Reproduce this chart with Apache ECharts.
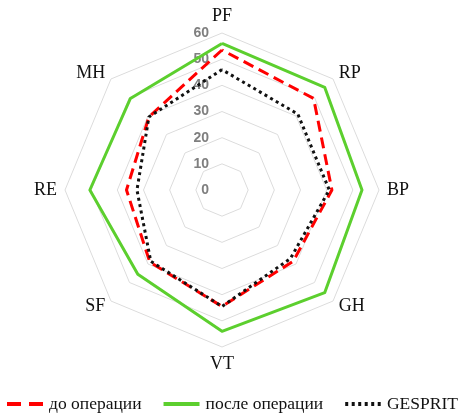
<!DOCTYPE html>
<html><head><meta charset="utf-8">
<script src="https://cdn.jsdelivr.net/npm/echarts@6/dist/echarts.min.js"></script>
<style>html,body{margin:0;padding:0;background:#fff}#c{width:475px;height:418px}</style>
</head><body><div id="c"></div>
<script>
// indicators listed clockwise from the top
var categories = ['PF', 'RP', 'BP', 'GH', 'VT', 'SF', 'RE', 'MH'];
var seriesNames = ['до операции', 'после операции', 'GESPRIT'];
var beforeOp = [53.5, 49.5, 42, 38.5, 44.5, 39, 36.5, 39.5];
var afterOp  = [56, 55.5, 53.5, 55.5, 54, 45.5, 50.5, 49.5];
var gesprit  = [46, 41, 41, 37, 44.5, 38.5, 32.5, 39.5];
var axisMax = 60;
var axisTicks = [0, 10, 20, 30, 40, 50, 60];

// ECharts lays indicators counter-clockwise; reorder so the picture runs clockwise
function ccw(arr) { return [arr[0]].concat(arr.slice(1).reverse()); }

var indicators = ccw(categories).map(function (n, i) {
  var ind = { name: n, min: 0, max: axisMax };
  if (i === 0) ind.axisLabel = { show: true };
  return ind;
});

var chart = echarts.init(document.getElementById('c'));
chart.setOption({
  animation: false,
  legend: {
    bottom: 0, left: 2, itemGap: 22, itemWidth: 38, itemHeight: 4,
    textStyle: { fontFamily: 'Liberation Serif', fontSize: 17.5, color: '#111' },
    data: [
      { name: seriesNames[0], icon: 'path://M0,0h14v4h-14z M22,0h14v4h-14z', itemStyle: { color: '#ff0000' } },
      { name: seriesNames[1], icon: 'path://M0,0h36v4h-36z', itemStyle: { color: '#5ccf2e' } },
      { name: seriesNames[2], icon: 'path://M0,0h3v4h-3z M6.5,0h3v4h-3z M13,0h3v4h-3z M19.5,0h3v4h-3z M26,0h3v4h-3z M32.5,0h3v4h-3z', itemStyle: { color: '#111' } }
    ]
  },
  radar: {
    center: [222, 190],
    radius: 157,
    shape: 'polygon',
    splitNumber: axisTicks.length - 1,
    indicator: indicators,
    nameGap: 8,
    axisName: { color: '#111', fontFamily: 'Liberation Serif', fontSize: 18 },
    axisLine: { show: false },
    axisTick: { show: false },
    splitArea: { show: false },
    splitLine: { lineStyle: { color: '#dcdcdc', width: 1 } },
    axisLabel: { show: false, color: '#7f7f7f', fontFamily: 'Liberation Sans', fontSize: 14, fontWeight: 'bold', align: 'right', margin: 13 }
  },
  series: [{
    type: 'radar',
    symbol: 'none',
    data: [
      { name: seriesNames[0], value: ccw(beforeOp), lineStyle: { color: '#ff0000', width: 3, type: [11, 6] }, itemStyle: { color: '#ff0000' } },
      { name: seriesNames[1], value: ccw(afterOp), lineStyle: { color: '#5ccf2e', width: 3, type: 'solid' }, itemStyle: { color: '#5ccf2e' } },
      { name: seriesNames[2], value: ccw(gesprit), lineStyle: { color: '#111', width: 3, type: [3, 3.5] }, itemStyle: { color: '#111' } }
    ]
  }]
});
</script></body></html>
